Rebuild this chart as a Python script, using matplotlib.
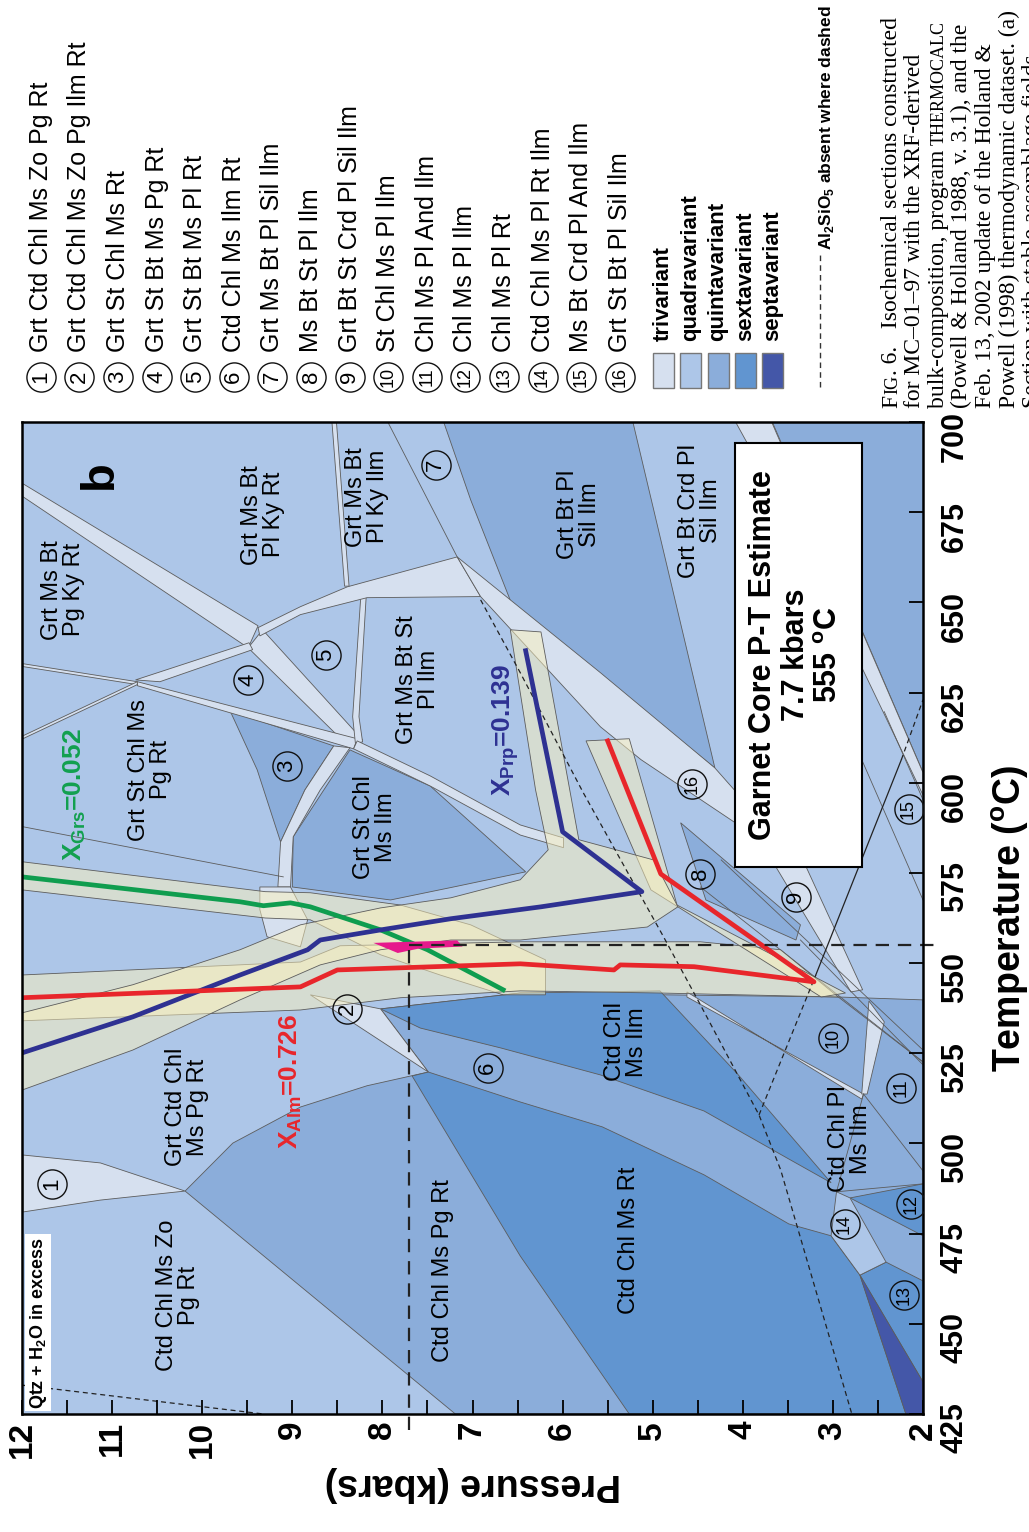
import matplotlib
matplotlib.use("Agg")
import numpy as np
import matplotlib.pyplot as plt
from matplotlib.patches import Polygon, Rectangle
from matplotlib.lines import Line2D
from matplotlib.colors import to_rgba

plt.rcParams['font.family'] = ['Liberation Sans', 'DejaVu Sans']
plt.rcParams['mathtext.fontset'] = 'custom'
plt.rcParams['mathtext.rm'] = 'Liberation Sans'
plt.rcParams['mathtext.bf'] = 'Liberation Sans:bold'

# variance colours
TRI, QUAD, QUINT, SEXT, SEPT = '#d6e0ef', '#adc6e8', '#8badda', '#6195d0', '#4457a8'
CREAM = to_rgba('#fdf2bc', 0.5)
EDGE = '#5c5c5c'
RED, BLUE, GREEN = '#e8262b', '#2e3192', '#0f9d4f'

# ---- fields, (P kbar, T degC) vertices ----
quint_fields = [
    [(7.32, 700), (5.22, 700), (4.31, 604.1), (5.58, 629.6), (6.54, 648), (7.02, 678.4)],
    [(3.68, 700), (2.0, 700), (2.0, 602.8)],
    [(10.19, 486.8), (9.66, 500.1), (8.91, 510.1), (8.17, 516), (7.49, 519.8), (8.02, 537.3),
     (6.47, 541.7), (2.94, 540.6), (2.0, 539.8), (2.0, 425), (7.19, 425)],
    [(9.69, 619.9), (8.54, 610.2), (8.86, 598), (9.13, 583.6), (9.39, 603.6)],
    [(8.36, 609.1), (7.47, 599.1), (6.41, 575.3), (7.21, 571.1), (7.91, 567.5), (9.0, 571.1), (8.99, 585)],
    [(4.69, 588.9), (4.41, 567.5), (3.41, 556.4), (3.36, 560.6)],
]
sext_fields = [
    [(8.02, 537.3), (6.47, 541.7), (4.92, 542.3), (4.06, 519.3), (3.02, 489.1), (3.49, 495.7),
     (4.43, 509), (5.58, 519), (6.69, 526.5), (7.58, 532)],
    [(7.67, 518.7), (7.49, 519.8), (6.47, 511.5), (5.56, 504.6), (4.43, 491.3), (3.49, 477.7),
     (3.02, 474.4), (2.7, 463.5), (2.19, 425), (5.26, 425), (6.47, 468.8)],
    [(2.81, 484.9), (2.0, 488.8), (2.0, 474.4)],
    [(2.7, 463.5), (2.41, 467.1), (2.0, 461.9), (2.0, 433.9)],
]
sept_fields = [[(2.7, 463.5), (2.0, 433.9), (2.0, 425), (2.19, 425)]]
quad_fields = [[(3.02, 474.4), (2.96, 486.6), (2.81, 484.9), (2.41, 467.1), (2.7, 463.5)]]
tri_fields = [
    [(11.99, 682.9), (9.38, 643.5), (9.49, 637.4), (11.99, 679.3)],
    [(9.33, 642.4), (8.22, 611.9), (8.36, 609.7), (9.49, 637.4)],
    [(10.72, 628), (8.28, 612.2), (8.32, 609.4), (10.72, 626.9)],
    [(10.74, 628.5), (9.48, 638.8), (9.44, 636.9), (10.47, 628)],
    [(8.24, 651.6), (8.18, 651.6), (8.26, 618.3), (8.22, 611.3), (8.3, 611), (8.33, 618.3)],
    [(9.38, 643), (8.91, 648.8), (8.39, 654.3), (7.17, 662.6), (6.91, 651.6), (8.17, 651.3),
     (8.91, 646.6), (9.36, 640.7)],
    [(7.17, 662.6), (5.58, 630.5), (4.31, 604.1), (3.8, 589.7), (3.97, 587), (5.13, 606.4),
     (5.58, 615.5), (6.91, 651.6)],
    [(8.28, 611.6), (7.47, 601.9), (6.47, 588.3), (5.99, 584.7), (5.99, 582), (6.47, 585.5),
     (7.47, 599.1), (8.32, 609.4)],
    [(8.54, 610.2), (8.36, 609.7), (8.69, 598), (8.99, 585), (9.02, 571.1), (9.16, 571.1),
     (9.13, 583.6), (8.86, 598)],
    [(8.8, 541.2), (8.02, 537.3), (7.49, 519.8)],
    [(11.99, 496.8), (11.13, 494.6), (10.19, 486.8), (11.13, 484.3), (11.99, 481)],
    [(3.78, 582.8), (3.41, 582.8), (2.67, 542.6), (2.8, 542)],
    [(4.08, 700), (3.68, 700), (2.0, 602.8), (2.0, 596.6), (3.36, 667.4)],
    [(11.99, 633), (10.72, 628), (10.72, 627.2), (11.99, 632.2)],
    [(11.99, 613), (10.72, 628), (10.72, 627.2), (11.99, 612.2)],
    [(8.56, 700), (8.51, 700), (8.37, 654.5), (8.42, 654.5)],
    [(4.62, 540.6), (2.66, 513.7), (2.68, 512.3), (4.62, 542.0)],
    [(2.6, 539.5), (2.43, 533.7), (2.62, 513.7), (2.68, 513.7)],
    [(9.36, 571.1), (9.02, 571.1), (8.83, 562), (8.91, 554.5), (9.28, 557.3), (9.36, 564.8)],
]
boundary_lines = [
    [(7.94, 700), (7.17, 662.6)],
    [(11.99, 587.8), (9.1, 573.9)],
    [(2.66, 513.7), (2.0, 492.4)],
    [(2.96, 486.6), (2.66, 513.7)],
    [(2.96, 486.6), (2.0, 488.8)],
    [(4.47, 571.1), (2.0, 522.6)],
    [(4.24, 578.6), (2.0, 525.9)],
    [(3.36, 556.4), (2.0, 521.8)],
    [(2.94, 540.6), (2.0, 522.6)],
    [(2.43, 619.7), (2.0, 595.3)],
    [(2.68, 606.4), (2.0, 567.5)],
]

# uncertainty envelopes around the isopleths
grs_env = [(12.0, 578.1), (9.3, 569.8), (8.8, 569.5), (7.8, 566.1), (7.02, 560.6), (6.19, 550.9),
           (6.19, 541.2), (6.66, 541.2), (7.36, 546.7), (8.02, 552.3), (8.8, 562), (9.3, 562.5),
           (12.0, 570.3)]
alm_env = [(12.0, 546.7), (8.91, 550.3), (8.47, 554.8), (6.47, 555.9), (4.47, 555.9), (3.58, 553.7),
           (2.94, 540.6), (4.91, 541.7), (6.47, 542.3), (7.8, 540.4), (8.91, 537), (12.0, 534)]
alm_env2 = [(5.74, 611.6), (5.26, 612.2), (4.73, 566.1), (2.86, 541.7), (3.13, 540.6), (5.02, 570.3)]
prp_env = [(6.58, 642.4), (6.24, 641.8), (5.82, 584.2), (4.99, 578.6), (4.72, 565.6), (5.06, 560),
           (6.47, 556.4), (7.24, 556.4), (8.02, 553.7), (8.69, 549.5), (9.58, 539.8), (10.77, 525.9),
           (12.0, 514.8), (12.0, 536.2), (10.77, 544), (9.58, 553.7), (8.91, 560.6), (8.02, 565.3),
           (7.24, 568.1), (6.47, 573.1), (6.16, 581.4), (6.3, 598)]

# isopleths
alm_P = [12.0, 8.91, 8.5, 6.47, 5.43, 5.36, 4.54, 3.21, 4.91, 5.5]
alm_T = [540.4, 543.4, 548.1, 549.8, 548.1, 549.5, 549.0, 544.8, 574.7, 611.6]
prp_P = [12.0, 10.77, 9.58, 8.83, 8.69, 8.02, 7.24, 6.24, 5.12, 6.0, 6.41]
prp_T = [525.1, 535.1, 546.7, 553.7, 556.4, 559.2, 562.3, 565.6, 569.8, 586.4, 636.6]
grs_P = [12.0, 9.58, 9.32, 9.02, 8.8, 8.02, 7.5, 6.66]
grs_T = [573.9, 567.0, 565.9, 566.7, 565.6, 559.2, 553.7, 542.6]
overlap = [(8.1, 555.6), (7.17, 556.3), (7.11, 554.6), (7.6, 554.0), (7.83, 552.8)]
est_P, est_T = 7.7, 555

# Al2SiO5 reactions
alsi_dashed = [
    [(6.91, 650.7), (6.47, 630.5), (5.77, 597.2), (4.88, 557.3), (4.47, 538.4), (3.82, 507.9),
     (3.58, 492.7), (2.79, 425)],
    [(3.82, 507.9), (3.19, 546.7)],
    [(2.24, 606.4), (2.0, 623)],
    [(12.0, 433), (9.32, 425)],
]
alsi_solid = [(3.19, 546.7), (2.24, 606.4)]

# labels
field_text = ["Grt Ms Bt\nPg Ky Rt", "Grt Ms Bt\nPl Ky Rt", "Grt Ms Bt\nPl Ky Ilm", "Grt St Chl Ms\nPg Rt",
              "Grt Ms Bt St\nPl Ilm", "Grt St Chl\nMs Ilm", "Grt Bt Pl\nSil Ilm", "Grt Bt Crd Pl\nSil Ilm",
              "Grt Ctd Chl\nMs Pg Rt", "Ctd Chl Ms Zo\nPg Rt", "Ctd Chl Ms Pg Rt", "Ctd Chl\nMs Ilm",
              "Ctd Chl Pl\nMs Ilm", "Ctd Chl Ms Rt"]
field_P = [11.54, 9.32, 8.17, 10.58, 7.61, 8.08, 5.82, 4.47, 10.17, 10.27, 7.33, 5.3, 2.81, 5.26]
field_T = [653.5, 674.3, 679.3, 603.6, 628.5, 587.8, 674.3, 675.4, 510.1, 458.0, 464.7, 528.2, 501.3, 473.2]
circ_P = [11.67, 8.39, 9.06, 9.49, 8.63, 6.83, 7.41, 4.47, 3.41, 3.0, 2.24, 2.13, 2.21, 2.87, 2.16, 4.56]
circ_T = [488.8, 537.3, 604.7, 628.5, 635.5, 521.0, 688.2, 574.7, 568.4, 529.3, 515.4, 483.2, 458.0,
          477.7, 592.8, 599.7]

key_labels = ["Grt Ctd Chl Ms Zo Pg Rt", "Grt Ctd Chl Ms Zo Pg Ilm Rt", "Grt St Chl Ms Rt",
              "Grt St Bt Ms Pg Rt", "Grt St Bt Ms Pl Rt", "Ctd Chl Ms Ilm Rt", "Grt Ms Bt Pl Sil Ilm",
              "Ms Bt St Pl Ilm", "Grt Bt St Crd Pl Sil Ilm", "St Chl Ms Pl Ilm", "Chl Ms Pl And Ilm",
              "Chl Ms Pl Ilm", "Chl Ms Pl Rt", "Ctd Chl Ms Pl Rt Ilm", "Ms Bt Crd Pl And Ilm",
              "Grt St Bt Pl Sil Ilm"]
variance_names = ["trivariant", "quadravariant", "quintavariant", "sextavariant", "septavariant"]
# caption lines; second item marks small caps
caption = [
    [("F", False), ("IG", True), (". 6.   Isochemical sections constructed", False)],
    [("for MC\u201301\u201397 with the XRF-derived", False)],
    [("bulk-composition, program ", False), ("THERMOCALC", True)],
    [("(Powell & Holland 1988, v. 3.1), and the", False)],
    [("Feb. 13, 2002 update of the Holland &", False)],
    [("Powell (1998) thermodynamic dataset. (a)", False)],
    [("Section with stable assemblage fields", False)],
]

W, H = 1029, 1532
fig = plt.figure(figsize=(W / 100, H / 100), dpi=100)
ax = fig.add_axes([22 / W, 1 - 1414 / H, 901 / W, 992 / H])
ax.set_xlim(12, 2)
ax.set_ylim(425, 700)
ax.set_facecolor(QUAD)
ax.set_axisbelow(False)


def fill(pts, fc, z=1.0, lw=0.6):
    ax.add_patch(Polygon(pts, closed=True, fc=fc, ec=EDGE, lw=lw, zorder=z))


for pts in quint_fields:
    fill(pts, QUINT)
for pts in sext_fields:
    fill(pts, SEXT)
for pts in sept_fields:
    fill(pts, SEPT)
for pts in quad_fields:
    fill(pts, QUAD)
for pts in tri_fields:
    fill(pts, TRI, z=1.1)
for seg in boundary_lines:
    p, t = zip(*seg)
    ax.plot(p, t, color=EDGE, lw=0.6, zorder=1.2)

for env in (grs_env, alm_env, alm_env2, prp_env):
    fill(env, CREAM, z=1.5)

for seg in alsi_dashed:
    p, t = zip(*seg)
    ax.plot(p, t, color='#222222', lw=0.9, dashes=(4, 3), zorder=1.8)
p, t = zip(*alsi_solid)
ax.plot(p, t, color='#222222', lw=0.9, zorder=1.8)

ax.plot(grs_P, grs_T, color=GREEN, lw=3.4, zorder=2.1)
ax.plot(prp_P, prp_T, color=BLUE, lw=3.4, zorder=2.1)
ax.plot(alm_P, alm_T, color=RED, lw=3.4, zorder=2.1)
ax.add_patch(Polygon(overlap, closed=True, fc='#e6198c', ec='none', zorder=2.2))

ax.plot([est_P, est_P], [420.5, est_T], color='#222222', lw=1.6, dashes=(6, 4), clip_on=False, zorder=2.3)
ax.plot([est_P, 1.85], [est_T, est_T], color='#222222', lw=1.6, dashes=(6, 4), clip_on=False, zorder=2.3)

for s, p, t in zip(field_text, field_P, field_T):
    ax.text(p, t, s, rotation=90, ha='center', va='center', fontsize=17, linespacing=1.0,
            multialignment='center', zorder=3)


def circled(n):
    return dict(s=str(n), fontsize=16 if n < 10 else 13, rotation=90, ha='center', va='center')


for i, (p, t) in enumerate(zip(circ_P, circ_T)):
    ax.plot([p], [t], marker='o', ms=21, mfc='none', mec='#111111', mew=1.0, zorder=3)
    ax.text(p, t, zorder=3, **circled(i + 1))

ax.text(11.13, 685.4, 'b', rotation=90, ha='center', va='center', fontsize=34, fontweight='bold')
ax.text(11.82, 426.5, r'Qtz + H$_\mathbf{2}$O in excess', rotation=90, rotation_mode='anchor',
        ha='left', va='center', fontsize=13, fontweight='bold',
        bbox=dict(fc='white', ec='none', pad=2), zorder=3)
ax.text(11.41, 596.6, r'$\mathbf{X_{Grs}}$=0.052', rotation=90, ha='center', va='center',
        fontsize=19, fontweight='bold', color='#12a04f', zorder=3)
ax.text(6.63, 614.7, r'$\mathbf{X_{Prp}}$=0.139', rotation=90, ha='center', va='center',
        fontsize=19, fontweight='bold', color=BLUE, zorder=3)
ax.text(9.02, 517.1, r'$\mathbf{X_{Alm}}$=0.726', rotation=90, ha='center', va='center',
        fontsize=19, fontweight='bold', color=RED, zorder=3)

ax.add_patch(Rectangle((2.68, 576.7), 1.41, 117.6, fc='white', ec='black', lw=1.5, zorder=4))
ax.text(3.41, 635.5, "Garnet Core P-T Estimate\n7.7 kbars\n555 $^\\mathbf{o}$C", rotation=90,
        ha='center', va='center', fontsize=22, fontweight='bold', linespacing=1.15, zorder=5)

# axes
ax.set_xticks(range(2, 13))
ax.set_xticks(np.arange(2.5, 12, 1.0), minor=True)
ax.set_yticks(range(425, 701, 25))
ax.tick_params(axis='x', which='both', direction='in', length=10, width=1.3, top=False,
               bottom=True, labelsize=24, pad=5, labelrotation=90)
ax.tick_params(axis='y', which='both', direction='in', length=10, width=1.3, left=False,
               right=True, labelleft=False, labelright=True, labelsize=22, labelrotation=90, pad=12)
for lbl in ax.get_xticklabels() + ax.get_yticklabels():
    lbl.set_fontweight('bold')
for sp in ax.spines.values():
    sp.set_linewidth(1.8)
ax.set_xlabel('Pressure (kbars)', fontsize=27, fontweight='bold', rotation=180, labelpad=6)
ax.yaxis.set_label_position('right')
ax.set_ylabel(r'Temperature ($^\mathbf{o}$C)', fontsize=27, fontweight='bold', rotation=90, labelpad=14)


def fx(px):
    return px / W


def fy(py):
    return 1 - py / H


# numbered key
for i, s in enumerate(key_labels):
    x = 40.8 + 38.6 * i
    fig.add_artist(Line2D([fx(x)], [fy(377)], transform=fig.transFigure, marker='o', ms=21,
                          mfc='none', mec='#111111', mew=1.0))
    fig.text(fx(x), fy(377), **circled(i + 1))
    fig.text(fx(x), fy(352), s, rotation=90, rotation_mode='anchor', ha='left', va='center',
             fontsize=18)

# variance key
for i, (name, c) in enumerate(zip(variance_names, [TRI, QUAD, QUINT, SEXT, SEPT])):
    x0 = 652.7 + 27.4 * i
    fig.add_artist(Rectangle((fx(x0), fy(388.3)), 21 / W, 35.6 / H, transform=fig.transFigure,
                             fc=c, ec='#777777', lw=1.0))
    fig.text(fx(x0 + 10.5), fy(341), name, rotation=90, rotation_mode='anchor', ha='left',
             va='center', fontsize=16, fontweight='bold')

fig.add_artist(Line2D([fx(820), fx(820)], [fy(387), fy(253)], transform=fig.transFigure,
                      color='#333333', lw=1.0, dashes=(4, 3)))
alsi_txt = fig.text(fx(826), fy(250), r'Al$_\mathbf{2}$SiO$_\mathbf{5}$ absent where dashed',
                    family=['Liberation Sans Narrow', 'DejaVu Sans Condensed', 'Liberation Sans'],
                    rotation=90, rotation_mode='anchor', ha='left', va='center', fontsize=15,
                    fontweight='bold')

renderer = fig.canvas.get_renderer()
# shrink the dashed-line note so it fits above the dash
length = alsi_txt.get_window_extent(renderer=renderer).height
if length > 244:
    alsi_txt.set_fontsize(15 * 244 / length)

# caption, running up the page from a common start, small caps set smaller
for i, parts in enumerate(caption):
    ypos = H - 408
    for s, small in parts:
        size = 13 if small else 17
        t = fig.text(fx(897 + 23.5 * i), ypos / H, s.rstrip(), family=['Liberation Serif'],
                     rotation=90, rotation_mode='anchor', ha='left', va='baseline', fontsize=size)
        ypos = t.get_window_extent(renderer=renderer).y1 + (5 if s.endswith(' ') else 0.5)

fig.savefig('out.png', dpi=100)
